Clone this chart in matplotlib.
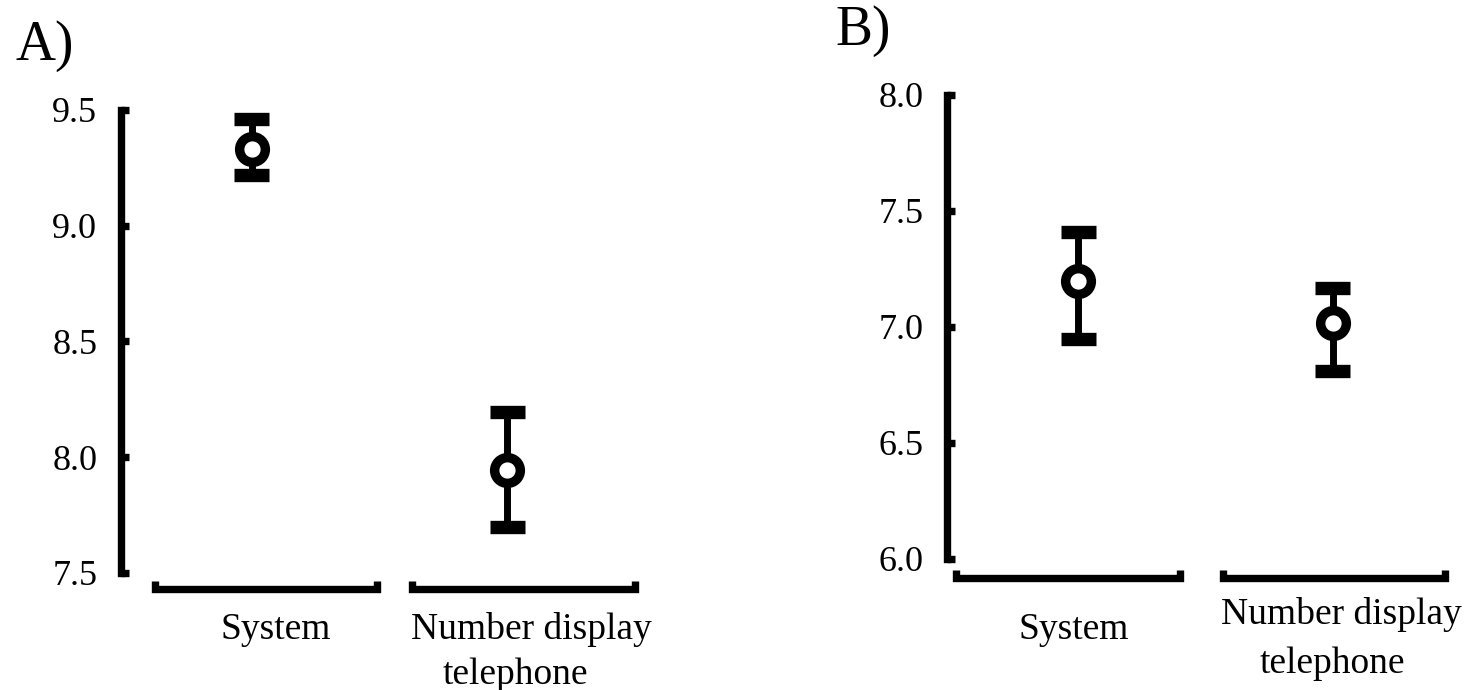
import matplotlib
matplotlib.use("Agg")
import matplotlib.pyplot as plt
import matplotlib.transforms as mtransforms
import numpy as np

plt.rcParams['font.family'] = ['Liberation Serif', 'DejaVu Serif']

# ---- data ----
categories = ["System", "Number display\ntelephone"]
a_means = [9.331, 7.946]
a_upper = [9.463, 8.197]
a_lower = [9.219, 7.699]
a_yticks = [7.5, 8.0, 8.5, 9.0, 9.5]

b_means = [7.197, 7.015]
b_upper = [7.408, 7.166]
b_lower = [6.946, 6.812]
b_yticks = [6.0, 6.5, 7.0, 7.5, 8.0]

fig = plt.figure(figsize=(14.68, 6.9), dpi=100)

def panel(rect, means, upper, lower, yticks, xlim, segs, seg_y, labels_pos, letter_pos, letter):
    ax = fig.add_axes(rect)
    x = np.arange(len(means))
    m = np.array(means)
    up = np.array(upper)
    lo = np.array(lower)
    err = np.vstack([m - lo, up - m])
    ax.errorbar(x, m, yerr=err, fmt='o', color='black', ecolor='black',
                elinewidth=5.0, capsize=0,
                markersize=18.5, markeredgewidth=6.8, markerfacecolor='white',
                markeredgecolor='black', zorder=3, clip_on=False)
    ax.set_xlim(*xlim)
    # cap half-width: 17.5 px in data units
    px_per_unit = rect[2] * 1468 / (xlim[1] - xlim[0])
    hw = 17.5 / px_per_unit
    ax.hlines(np.concatenate([up, lo]), np.concatenate([x, x]) - hw, np.concatenate([x, x]) + hw,
              colors='black', linewidth=9.6, capstyle='butt', zorder=2)
    ax.set_ylim(yticks[0], yticks[-1])
    ax.set_yticks(yticks)
    ax.set_yticklabels([f"{t:.1f}" for t in yticks])
    for s in ['top', 'right', 'bottom']:
        ax.spines[s].set_visible(False)
    ax.spines['left'].set_linewidth(5.3)
    ax.spines['left'].set_capstyle('projecting')
    ax.tick_params(axis='y', direction='in', length=6, width=5.3, pad=17, labelsize=26)
    ax.tick_params(axis='x', bottom=False, labelbottom=False)
    trans = mtransforms.blended_transform_factory(ax.transData, ax.transAxes)
    nub = 7.5 / (rect[3] * 690)
    for (x0, x1) in segs:
        ax.plot([x0, x0, x1, x1], [seg_y + nub, seg_y, seg_y, seg_y + nub],
                transform=trans, color='black', lw=5.3, clip_on=False,
                solid_joinstyle='miter', solid_capstyle='butt')
    for (txt, tx, ty) in labels_pos:
        ax.text(tx, ty, txt, transform=trans, ha='center', va='center', fontsize=27)
    fig.text(letter_pos[0], letter_pos[1], letter, fontsize=40, va='baseline', ha='left')
    return ax

# Panel A
panel([0.0824, 0.1696, 0.357, 0.671], a_means, a_upper, a_lower, a_yticks,
      (-0.511, 1.54), [(-0.378, 0.49), (0.628, 1.501)], -16 / 463,
      [("System", 0.096, -0.122), ("Number display", 1.094, -0.122), ("telephone", 1.031, -0.219)],
      (15 / 1468, 0.913), "A)")

# Panel B
panel([0.6451, 0.1899, 0.3426, 0.6725], b_means, b_upper, b_lower, b_yticks,
      (-0.516, 1.46), [(-0.480, 0.398), (0.567, 1.441)], -19 / 464,
      [("System", -0.02, -0.152), ("Number display", 1.035, -0.12), ("telephone", 1.0, -0.225)],
      (835 / 1468, 0.935), "B)")

fig.savefig("out.png", dpi=100)
